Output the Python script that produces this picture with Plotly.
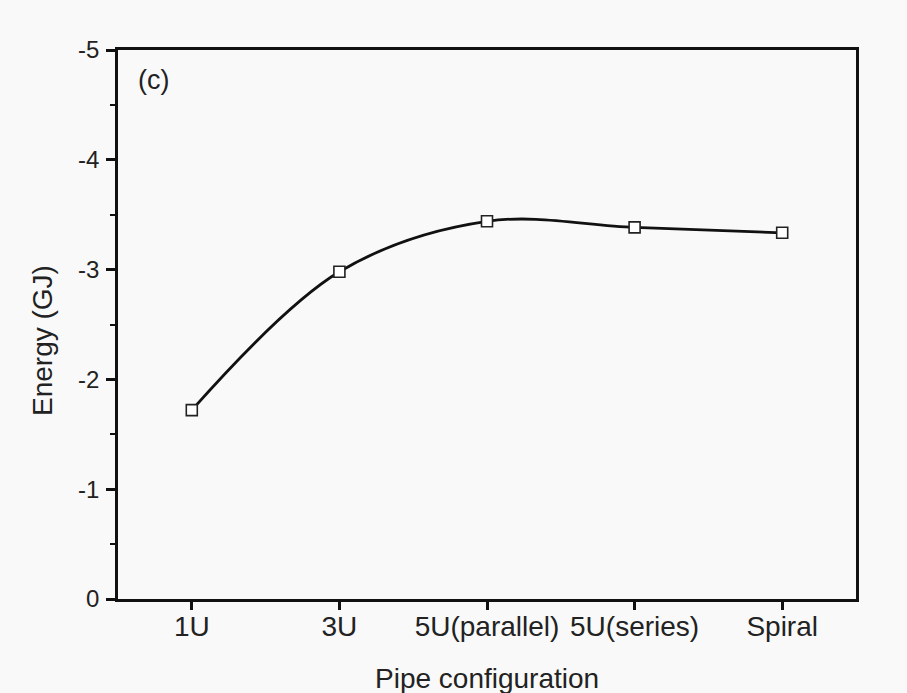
import plotly.graph_objects as go

categories = ["1U", "3U", "5U(parallel)", "5U(series)", "Spiral"]
energy_gj = [-1.72, -2.98, -3.44, -3.385, -3.335]
y_ticks = [0, -1, -2, -3, -4, -5]

fig = go.Figure()
fig.add_trace(go.Scatter(
    x=list(range(len(categories))), y=energy_gj,
    mode="lines+markers",
    line=dict(color="#111111", width=2.8, shape="spline", smoothing=1.0),
    marker=dict(symbol="square", size=11, color="white",
                line=dict(color="#222222", width=1.6)),
    showlegend=False,
))

axis_font = dict(family="Liberation Sans, Arial, sans-serif", color="#222222")

fig.update_layout(
    width=907, height=693,
    margin=dict(l=118, r=51, t=50, b=94, autoexpand=False),
    paper_bgcolor="#f9f9f9", plot_bgcolor="#f9f9f9",
    font=axis_font,
    xaxis=dict(
        range=[-0.5, 4.5], tickmode="array",
        tickvals=list(range(len(categories))), ticktext=categories,
        showgrid=False, zeroline=False, automargin=False,
        showline=True, linewidth=2.5, linecolor="#111111", mirror=True,
        ticks="outside", ticklen=8, tickwidth=2.5, tickcolor="#111111",
        ticklabelstandoff=-7,
        tickfont=dict(size=28, color="#222222"),
    ),
    yaxis=dict(
        range=[0, -5], tickmode="array", tickvals=y_ticks,
        ticktext=[str(v) for v in y_ticks],
        showgrid=False, zeroline=False, automargin=False,
        showline=True, linewidth=2.5, linecolor="#111111", mirror=True,
        ticks="outside", ticklen=9, tickwidth=2.5, tickcolor="#111111",
        ticklabelstandoff=2,
        tickfont=dict(size=24, color="#222222"),
        minor=dict(dtick=0.5, tick0=0, ticks="outside", ticklen=5, tickwidth=2, tickcolor="#111111", showgrid=False),
    ),
    annotations=[
        dict(text="(c)", xref="paper", yref="paper", x=0.025, y=0.945,
             xanchor="left", yanchor="middle", showarrow=False,
             font=dict(size=27, color="#222222")),
        dict(text="Pipe configuration", xref="paper", yref="paper", x=0.5, y=-0.1457,
             xanchor="center", yanchor="middle", showarrow=False,
             font=dict(size=28, color="#222222")),
        dict(text="Energy (GJ)", xref="paper", yref="paper", x=-0.1016, y=0.47,
             xanchor="center", yanchor="middle", showarrow=False, textangle=-90,
             font=dict(size=28, color="#222222")),
    ],
)

fig.write_html("out.html")
